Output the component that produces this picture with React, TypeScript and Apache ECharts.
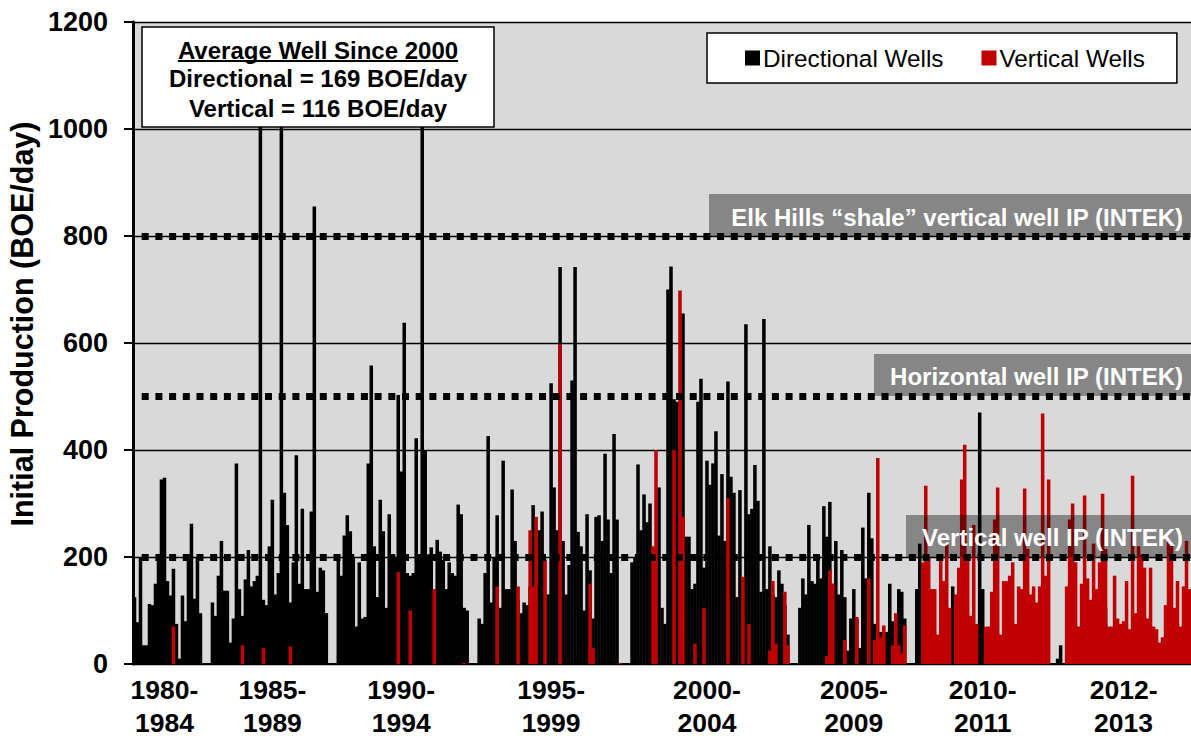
import React, { useEffect, useRef } from "react";
import * as echarts from "echarts";

const FONT = '"Liberation Sans", Arial, sans-serif';

const directionalA = [125,78,200,35,35,112,110,150,200,345,348,155,128,178,75,10,128,80,195,262,122,200,95,0,0,0,115,90,165,230,137,137,40,85,375,140,90,158,213,145,155,165,1005,120,110,220,307,130,170,1005,320,260,115,190,390,150,290,140,140,285,855,135,180,175,95,0,0,0,205,165,240,278,248,200,70,190,85,88,375,558,220,125,307,248,105,280,200,200,503,360,638,170,165,170,422,200,1005,400,205,218,140,232,210,195,140,190,170,165,298,280,105,100,0,0,0];
const directionalB = [85,75,170,426,115,200,278,105,380,140,140,326,230,120,95,115,110,145,297,145,250,285,130,130,525,330,250,742,230,130,185,530,742,247,220,100,280,175,85,275,278,230,393,270,170,430,270,0,0,0,0,190,200,373,250,317,265,300,200,180,330,105,75,700,743,495,490,400,655,238,238,140,150,490,533,180,380,335,375,435,240,355,230,528,350,320,125,325,160,635,280,290,372,305,135,645,140,220,130,125,175,150,110,55,0,0,0,105,160,130,260,155,150,200,160,295,238];
const directionalC = [303,150,230,130,213,125,25,85,140,85,30,255,160,320,235,75,60,60,40,60,150,80,60,140,135,85,0,0,0,140,225,0,0,0,0,0,0,0,0,0,0,145,0,0,0,0,0,0,0,0,470,140,0,0,0,0,55,0,0,0,0,0,0,0,0,0,0,0,0,0,0,0,0,0,0,0,10,35,0,0,0,0,0,0,0,0,0,0,0,0,0,0,105,0,0,0,0,0,0,0,0,0,0,0,0,0,0,0,0,0,0,0,0,0,0,0,0,0,0,0,0];

const verticalA = [0,0,0,0,0,0,0,0,0,0,0,0,0,70,0,0,0,0,0,0,0,0,0,0,0,0,0,0,0,0,0,0,0,0,0,0,35,0,0,0,0,0,0,30,0,0,0,0,0,0,0,0,33,0,0,0,0,0,0,0,0,0,0,0,0,0,0,0,0,0,0,0,0,0,0,0,0,0,0,0,0,0,0,0,0,0,0,0,172,0,0,0,100,0,0,0,0,0,0,0,140,0,0,0,0,0,0,0,0,0,2,0,0,0,0];
const verticalB = [0,0,0,0,0,0,145,0,0,0,0,0,0,145,0,0,0,250,145,275,0,0,195,0,0,0,0,598,0,0,0,0,0,0,0,0,0,150,30,0,0,0,0,0,0,0,0,2,0,0,0,0,0,0,0,0,0,0,220,400,0,0,0,0,0,400,0,698,275,0,0,0,38,0,0,105,0,0,0,0,0,0,0,310,0,0,0,0,163,0,75,0,0,0,0,0,0,25,155,38,0,0,135,35,0,0,0,0,0,0,0,0,0,0,0,0,15];
const verticalC = [175,150,0,0,0,45,0,0,0,88,0,0,0,160,0,45,385,50,72,0,0,35,95,35,20,72,0,0,0,0,0,190,333,200,140,140,55,195,155,225,105,0,130,180,345,410,200,90,260,75,0,0,70,70,135,270,330,55,155,155,165,190,75,145,140,328,215,130,145,115,145,468,165,345,0,0,0,0,0,145,270,300,190,70,150,315,160,120,225,140,190,318,215,70,70,165,85,75,80,155,65,352,95,220,205,180,85,180,70,65,40,50,110,230,225,105,155,70,145,230,140,170].slice(0,121);

const directional = [...directionalA, ...directionalB, ...directionalC];
const vertical = [...verticalA, ...verticalB, ...verticalC];
const categories = directional.map((_, i) => String(i));

const periodLabels = ["1980-\n1984","1985-\n1989","1990-\n1994","1995-\n1999","2000-\n2004","2005-\n2009","2010-\n2011","2012-\n2013"];
const periodIndex = [10, 46, 89, 139, 191, 240, 283, 330];
const referenceLevels = [200, 500, 800];
const yTicks = [0, 200, 400, 600, 800, 1000, 1200];

const bands = [
  { text: "Elk Hills “shale” vertical well IP (INTEK)", x: 709, y: 194, w: 482, h: 42, ty: 217 },
  { text: "Horizontal well IP (INTEK)", x: 874, y: 354, w: 317, h: 42, ty: 376 },
  { text: "Vertical well IP (INTEK)", x: 906, y: 515, w: 285, h: 42, ty: 537 },
];
const boxLines = [
  { text: "Average Well Since 2000", y: 50 },
  { text: "Directional = 169 BOE/day", y: 78 },
  { text: "Vertical = 116 BOE/day", y: 108 },
];

export default function App() {
  const ref = useRef<HTMLDivElement>(null);
  useEffect(() => {
    document.body.style.margin = "0";
    const chart = echarts.init(ref.current!, null, { renderer: "svg" });
    chart.setOption({
      animation: false,
      backgroundColor: "#ffffff",
      textStyle: { fontFamily: FONT },
      grid: { left: 133, top: 22, width: 1058, height: 642, containLabel: false, outerBoundsMode: "none", backgroundColor: "#d9d9d9", show: true, borderWidth: 0 },
      legend: {
        show: true,
        left: 707,
        top: 33,
        orient: "horizontal",
        padding: [13, 32, 13, 38],
        backgroundColor: "#ffffff",
        borderColor: "#000000",
        borderWidth: 1.5,
        itemWidth: 15,
        itemHeight: 15,
        itemGap: 38,
        icon: "rect",
        selectedMode: false,
        z: 90,
        textStyle: { fontSize: 24.3, color: "#000", fontFamily: FONT, padding: [0, 0, 0, -2] },
        data: ["Directional Wells", "Vertical Wells"],
      },
      xAxis: {
        type: "category",
        data: categories,
        axisTick: { show: false },
        axisLine: { show: true, lineStyle: { color: "#000", width: 2 } },
        axisLabel: {
          interval: (i: number) => periodIndex.includes(i),
          formatter: (_: string, i: number) => {
            const k = periodIndex.indexOf(i);
            return k >= 0 ? periodLabels[k] : "";
          },
          fontSize: 26.5,
          fontWeight: "bold",
          color: "#000",
          lineHeight: 33,
          margin: 9,
          hideOverlap: false,
        },
      },
      yAxis: {
        type: "value",
        min: 0,
        max: 1200,
        interval: 200,
        axisLine: { show: true, lineStyle: { color: "#000", width: 3 } },
        axisTick: { show: true, length: 9, lineStyle: { color: "#000", width: 2 } },
        axisLabel: {
          fontSize: 27,
          fontWeight: "bold",
          color: "#000",
          margin: 25,
          formatter: (v: number) => (yTicks.includes(v) ? String(v) : ""),
        },
        splitLine: { show: true, lineStyle: { color: "#000", width: 1.3 } },
      },
      series: [
        {
          name: "Directional Wells",
          type: "bar",
          data: directional,
          barWidth: "118%",
          barGap: "-100%",
          itemStyle: { color: "#000000" },
          markLine: {
            silent: true,
            symbol: "none",
            z: 60,
            label: { show: false },
            lineStyle: { color: "#000", type: [7, 6.7], dashOffset: 5, width: 7, opacity: 1 },
            data: referenceLevels.map((v) => ({ yAxis: v })),
          },
        },
        {
          name: "Vertical Wells",
          type: "bar",
          data: vertical,
          barWidth: "118%",
          barGap: "-100%",
          itemStyle: { color: "#c00000" },
        },
      ],
      graphic: [
        ...bands.map((b) => ({ type: "rect", z: 50, shape: { x: b.x, y: b.y, width: b.w, height: b.h }, style: { fill: "rgba(0,0,0,0.38)" } })),
        ...bands.map((b) => ({
          type: "text", z: 70, x: 1183, y: b.ty,
          style: { text: b.text, fill: "#fff", font: `bold 24px ${FONT}`, textAlign: "right", textVerticalAlign: "middle" },
        })),
        { type: "rect", z: 80, shape: { x: 142, y: 27, width: 352, height: 100 }, style: { fill: "#fff", stroke: "#000", lineWidth: 1.5 } },
        ...boxLines.map((l) => ({
          type: "text", z: 81, x: 318, y: l.y,
          style: { text: l.text, fill: "#000", font: `bold 24px ${FONT}`, textAlign: "center", textVerticalAlign: "middle" },
        })),
        { type: "line", z: 81, shape: { x1: 178, y1: 61, x2: 458, y2: 61 }, style: { stroke: "#000", lineWidth: 2 } },
        {
          type: "text", z: 81, x: 22, y: 324, rotation: Math.PI / 2,
          style: { text: "Initial Production (BOE/day)", fill: "#000", font: `bold 30.5px ${FONT}`, textAlign: "center", textVerticalAlign: "middle" },
        },
      ],
    });
    return () => chart.dispose();
  }, []);
  return <div ref={ref} style={{ width: 1191, height: 736 }} />;
}
